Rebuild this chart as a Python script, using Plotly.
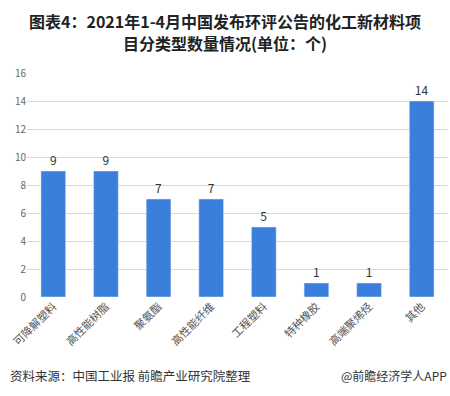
import plotly.graph_objects as go

categories = ["可降解塑料", "高性能树脂", "聚氨酯", "高性能纤维", "工程塑料", "特种橡胶", "高端聚烯烃", "其他"]
values = [9, 9, 7, 7, 5, 1, 1, 14]
y_ticks = [0, 2, 4, 6, 8, 10, 12, 14, 16]

font = "Noto Sans CJK SC"
L, R, T, B = 27, 2, 73, 99
W, H = 450, 396
pw = W - L - R
ph = H - T - B


def px(xp):
    return (xp - L) / pw


def py(yp):
    return (H - B - yp) / ph


fig = go.Figure(go.Bar(
    x=categories, y=values, marker_color="#3a7fdc", width=0.47,
    text=values, textposition="outside", cliponaxis=False,
    textfont=dict(size=12, color="#333", family=font),
))
fig.update_layout(
    width=W, height=H, plot_bgcolor="white", paper_bgcolor="white",
    margin=dict(l=L, r=R, t=T, b=B),
    font=dict(family=font),
    showlegend=False,
    annotations=[
        dict(text="<b>图表4：2021年1-4月中国发布环评公告的化工新材料项</b>",
             x=px(225), y=py(21), xref="paper", yref="paper", showarrow=False,
             xanchor="center", yanchor="middle",
             font=dict(size=16, color="#222", family=font)),
        dict(text="<b>目分类型数量情况(单位：个)</b>",
             x=px(225), y=py(43), xref="paper", yref="paper", showarrow=False,
             xanchor="center", yanchor="middle",
             font=dict(size=16, color="#222", family=font)),
        dict(text="资料来源：中国工业报 前瞻产业研究院整理", x=px(8), y=py(375), xref="paper", yref="paper",
             showarrow=False, font=dict(size=12.5, color="#333", family=font), xanchor="left", yanchor="middle"),
        dict(text="@前瞻经济学人APP", x=px(449), y=py(375), xref="paper", yref="paper",
             showarrow=False, font=dict(size=12, color="#333", family=font), xanchor="right", yanchor="middle"),
    ],
)
fig.update_yaxes(range=[0, 16], tickvals=y_ticks, showgrid=True, gridcolor="#d9d9d9",
                 zeroline=False, showline=False, tickfont=dict(size=10, color="#666"),
                 ticks="", automargin=False)
fig.update_xaxes(tickangle=-45, tickfont=dict(size=11, color="#555"), showline=False, ticks="",
                 automargin=False)
fig.write_html("out.html", config={"displayModeBar": False},
               post_script="document.body.style.margin='0';document.body.style.padding='0';")
